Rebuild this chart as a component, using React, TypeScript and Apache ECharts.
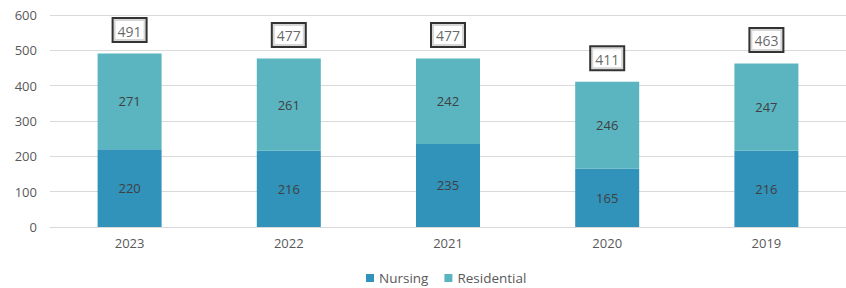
import React, { useEffect, useRef } from "react";
import * as echarts from "echarts";

const categories = ["2023", "2022", "2021", "2020", "2019"];
const nursing = [220, 216, 235, 165, 216];
const residential = [271, 261, 242, 246, 247];
const totals = [491, 477, 477, 411, 463];
const yTicks = [0, 100, 200, 300, 400, 500, 600];

const FONT = "'Open Sans', 'Noto Sans', sans-serif";

export default function App() {
  const ref = useRef<HTMLDivElement>(null);
  useEffect(() => {
    if (!ref.current) return;
    const chart = echarts.init(ref.current, undefined, { renderer: "svg" });
    chart.setOption({
      animation: false,
      textStyle: { fontFamily: FONT },
      grid: { left: 50, top: 15, width: 807, height: 212, containLabel: false },
      legend: {
        top: 266,
        left: 361,
        itemWidth: 8,
        itemHeight: 8,
        itemGap: 16,
        icon: "rect",
        textStyle: { color: "#595959", fontSize: 13.5, fontFamily: FONT },
        data: ["Nursing", "Residential"],
      },
      xAxis: {
        type: "category",
        data: categories,
        axisTick: { show: false },
        axisLine: { lineStyle: { color: "#d9d9d9", width: 1 } },
        axisLabel: { color: "#595959", fontSize: 13, margin: 9 },
      },
      yAxis: {
        type: "value",
        min: yTicks[0],
        max: yTicks[yTicks.length - 1],
        interval: 100,
        axisLine: { show: false },
        axisTick: { show: false },
        splitLine: { lineStyle: { color: "#d9d9d9", width: 1 } },
        axisLabel: { color: "#595959", fontSize: 13, margin: 13 },
      },
      series: [
        {
          name: "Nursing",
          type: "bar",
          stack: "total",
          barWidth: 64,
          data: nursing,
          itemStyle: { color: "#3192ba" },
          label: { show: true, position: "inside", color: "#404040", fontSize: 13 },
        },
        {
          name: "Residential",
          type: "bar",
          stack: "total",
          barWidth: 64,
          data: residential,
          itemStyle: { color: "#5ab5c0" },
          label: { show: true, position: "inside", color: "#404040", fontSize: 13 },
        },
        {
          name: "Total",
          type: "scatter",
          data: totals,
          symbolSize: 1,
          itemStyle: { color: "rgba(0,0,0,0)" },
          label: {
            show: true,
            position: "top",
            distance: 12,
            color: "#404040",
            fontSize: 14,
            lineHeight: 16,
            backgroundColor: "#ffffff",
            borderColor: "#000000",
            borderWidth: 2,
            padding: [4, 4, 2, 4],
          },
          z: 5,
        },
      ],
    });
    return () => chart.dispose();
  }, []);
  return <div ref={ref} style={{ width: 846, height: 288, position: "absolute", left: 0, top: 0 }} />;
}
